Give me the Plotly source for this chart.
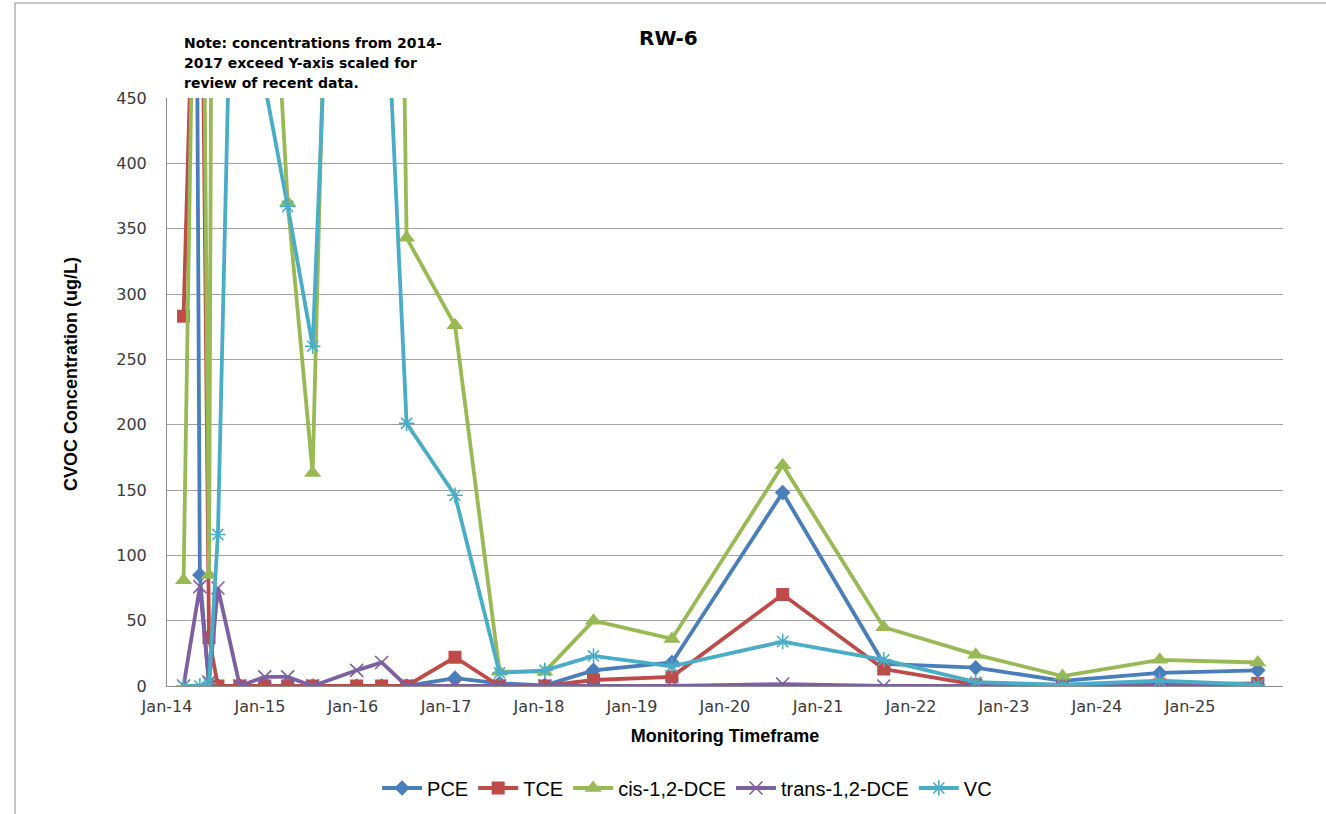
import plotly.graph_objects as go

# ---------------- data ----------------
dates = ["2014-03-07", "2014-05-10", "2014-06-15", "2014-07-20", "2014-10-14",
         "2015-01-20", "2015-04-20", "2015-07-27", "2016-01-16", "2016-04-23",
         "2016-07-30", "2017-02-05", "2017-07-30", "2018-01-24", "2018-08-03",
         "2019-06-07", "2020-08-15", "2021-09-16", "2022-09-12", "2023-08-19",
         "2024-09-04", "2025-09-24"]

pce = [2500, 85, 0, 0, 0, 0, 0, 0, 0, 0, 0, 6, 2, 0.5, 12, 18, 148, 17, 14, 4, 10, 12]
tce = [283, 730, 37, 0, 0, 0, 0, 0, 0, 0, 0, 22, 0, 0, 4.6, 7, 70, 13, 1, 0, 1, 2]
cis_dce = [81, 870, 85, 1730, 1500, 680, 370, 163, 1500, 1680, 343, 276, 11, 11, 50, 36, 169, 45, 24, 7.6, 20, 18]
trans_dce = [0, 76, 3, 75, 0, 7, 7, 0, 12, 18, 0, 0, 0, 0, 0, 0, 1.5, 0, 0, 0, 0, 0]
vc = [0, 0, 2, 116, 850, 460, 367, 260, 1100, 616, 201, 146, 10, 12, 23, 15, 34, 20, 3, 1, 4, 1]

tick_vals = ["2014-01-01", "2015-01-01", "2016-01-01", "2017-01-01", "2018-01-01", "2019-01-01",
             "2020-01-01", "2021-01-01", "2022-01-01", "2023-01-01", "2024-01-01", "2025-01-01"]
tick_text = ["Jan-14", "Jan-15", "Jan-16", "Jan-17", "Jan-18", "Jan-19",
             "Jan-20", "Jan-21", "Jan-22", "Jan-23", "Jan-24", "Jan-25"]
y_ticks = [0, 50, 100, 150, 200, 250, 300, 350, 400, 450]

note_lines = ["Note: concentrations from 2014-", "2017 exceed Y-axis scaled for", "review of recent data."]

series = [
    ("PCE", pce, "#4A7EBB", "diamond", 12),
    ("TCE", tce, "#BE4B48", "square", 13),
    ("cis-1,2-DCE", cis_dce, "#98B954", "triangle-up", 15),
    ("trans-1,2-DCE", trans_dce, "#7D60A0", "x-thin-open", 13),
    ("VC", vc, "#4BACC6", "asterisk-open", 13),
]

fig = go.Figure()
for name, vals, col, sym, size in series:
    thin = sym.endswith("open")
    fig.add_trace(go.Scatter(
        x=dates, y=vals, name=name, mode="lines+markers",
        line=dict(color=col, width=3.8),
        marker=dict(symbol=sym, size=size, color=col,
                    line=dict(color=col, width=1.6 if thin else 0)),
    ))

L, R, T, B = 167, 43, 98, 128
W, H = 1326, 814
pw, ph = W - L - R, H - T - B

def px_x(p):
    return (p - L) / pw

def px_y(p):
    return (H - B - p) / ph

tick_font = dict(family="DejaVu Sans", size=16, color="#3A3A3A")

fig.update_layout(
    width=W, height=H,
    margin=dict(l=L, r=R, t=T, b=B, autoexpand=False),
    paper_bgcolor="white", plot_bgcolor="white",
    showlegend=True,
    legend=dict(orientation="h", x=0.466, xanchor="center", y=px_y(788), yanchor="middle",
                font=dict(family="Liberation Sans Narrow, Arial Narrow, Liberation Sans, sans-serif",
                          size=20, color="#000000"),
                itemwidth=40, tracegroupgap=0),
    xaxis=dict(type="date", range=["2014-01-01", "2026-01-01"],
               tickvals=tick_vals, ticktext=tick_text, automargin=False,
               showgrid=False, showline=True, linecolor="#8C8C8C", linewidth=1,
               ticks="", ticklabelstandoff=6, tickfont=tick_font,
               title=dict(text="<b>Monitoring Timeframe</b>", standoff=14,
                          font=dict(family="Liberation Sans, Arial, sans-serif", size=18, color="#000000")),
               zeroline=False),
    yaxis=dict(range=[0, 450], tickvals=y_ticks, automargin=False,
               showgrid=True, gridcolor="#A0A0A0", gridwidth=1,
               showline=True, linecolor="#8C8C8C", linewidth=1,
               ticks="", ticklabelstandoff=16, tickfont=tick_font,
               zeroline=False),
)

fig.add_annotation(text="<b>CVOC Concentration (ug/L)</b>", xref="paper", yref="paper",
                   x=px_x(71), y=px_y(374), textangle=-90, showarrow=False,
                   xanchor="center", yanchor="middle",
                   font=dict(family="Liberation Sans, Arial, sans-serif", size=18, color="#000000"))
fig.add_annotation(text="<b>RW-6</b>", xref="paper", yref="paper", x=px_x(668), y=px_y(38),
                   showarrow=False, xanchor="center", yanchor="middle",
                   font=dict(family="DejaVu Sans", size=20, color="#000000"))
for i, line in enumerate(note_lines):
    fig.add_annotation(text="<b>" + line + "</b>", xref="paper", yref="paper",
                       x=px_x(182), y=px_y(43 + 20 * i),
                       showarrow=False, xanchor="left", yanchor="middle", align="left",
                       font=dict(family="DejaVu Sans", size=14, color="#000000"))

# chart-area border
fig.add_shape(type="rect", xref="paper", yref="paper",
              x0=px_x(15), x1=px_x(1340), y0=px_y(830), y1=px_y(3),
              line=dict(color="#8C8C8C", width=1), fillcolor="rgba(0,0,0,0)", layer="below")

fig.write_html("out.html", config={"displayModeBar": False},
               post_script="document.body.style.margin='0px';document.body.style.overflow='hidden';")
